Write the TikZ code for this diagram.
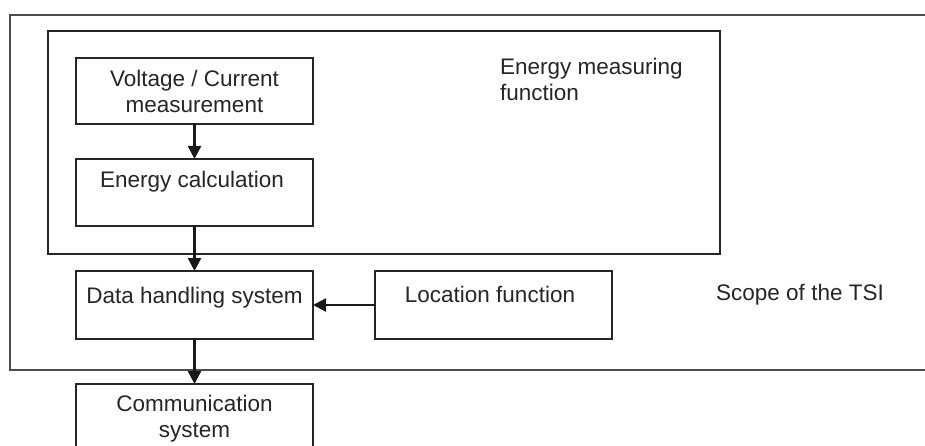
\documentclass[tikz,border=0pt]{standalone}
\usepackage{fontspec}
\setmainfont{Liberation Sans}
\usetikzlibrary{arrows.meta}
\begin{document}
\begin{tikzpicture}[x=1pt,y=-1pt,
  box/.style={draw=black!85,line width=2.2pt,minimum width=237pt,inner sep=0pt,outer sep=0pt},
  txt/.style={font=\fontsize{22.5}{26}\selectfont,align=center,inner sep=0pt,text=black!85},
  arr/.style={draw=black!90,line width=2.4pt,-{Triangle[length=13pt,width=13pt]}},
  frame/.style={draw=black!70,line width=2.2pt}]
\useasboundingbox (0,0) rectangle (925,446);
\clip (0,0) rectangle (925,446);
\fill[white] (0,0) rectangle (925,446);
% outer TSI scope (open to the right)
\coordinate (o1) at (940,15);
\coordinate (o2) at (10,15);
\coordinate (o3) at (10,370);
\coordinate (o4) at (940,370);
\draw[frame] (o1) -- (o2) -- (o3) -- (o4);
% energy measuring function box
\node[frame,draw=black!85,inner sep=0pt,outer sep=0pt,minimum width=672pt,minimum height=223pt] (emf) at (384,142.5) {};
\node[txt,align=left,anchor=north west] (emft) at (500,58) {Energy measuring\\function};
% boxes
\node[box,minimum height=66pt,txt] (vc) at (194.5,91) {Voltage / Current\\measurement};
\node[box,minimum height=67pt] (ec) at (194.5,192.5) {};
\node[txt] (ect) at (192,182) {Energy calculation};
\node[box,minimum height=68pt] (dh) at (194.5,305) {};
\node[txt] (dht) at (194.5,298) {Data handling system};
\node[box,minimum height=68pt] (lf) at (493.5,305) {};
\node[txt] (lft) at (490,294) {Location function};
\node[txt,anchor=west] (scope) at (716,295) {Scope of the TSI};
\node[box,minimum height=80pt,anchor=north] (cs) at (194.5,384) {};
\node[txt] (cst) at (194.5,419) {Communication\\system};
% arrows
\draw[arr] (vc.south) -- (ec.north);
\draw[arr] (ec.south) -- (dh.north);
\draw[arr] (dh.south) -- (cs.north);
\draw[arr] (lf.west) -- (dh.east);
\end{tikzpicture}
\end{document}
